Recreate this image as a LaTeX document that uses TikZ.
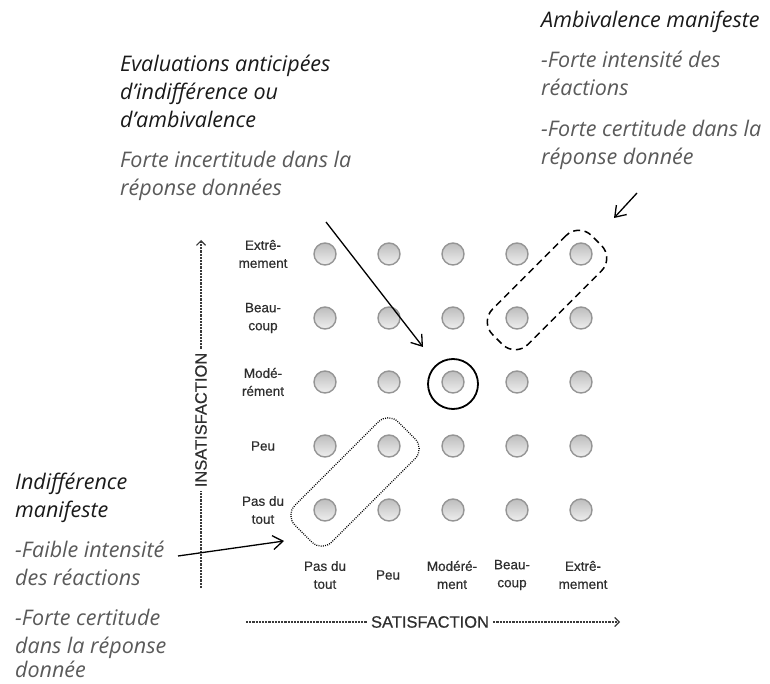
\documentclass[tikz,border=0pt]{standalone}
\usepackage{fontspec}
\setmainfont{Open Sans}
\newfontfamily\labfont[FakeBold=0.5]{Liberation Sans}
\usetikzlibrary{arrows.meta}
\definecolor{txtblack}{HTML}{1A1A1A}
\definecolor{txtgray}{HTML}{5A5A5A}
\definecolor{labgray}{HTML}{2E2E2E}
\definecolor{dotedge}{HTML}{959595}
\definecolor{dottop}{HTML}{BDBDBD}
\definecolor{dotbot}{HTML}{EFEFEF}
\definecolor{axisgray}{HTML}{3A3A3A}
\begin{document}
\begin{tikzpicture}[x=1pt,y=-1pt,
  headtxt/.style={font=\fontsize{21.5}{28}\selectfont\itshape, text=txtblack, anchor=base west, inner sep=0pt},
  subtxt/.style={font=\fontsize{21.5}{28}\selectfont\itshape, text=txtgray, anchor=base west, inner sep=0pt},
  lab/.style={font=\labfont\fontsize{13.5}{18}\selectfont, text=labgray, align=center, inner sep=0pt},
  axislab/.style={font=\labfont\fontsize{16.5}{18}\selectfont, text=labgray, inner sep=4pt},
  axisline/.style={draw=axisgray, line width=1.5pt, dash pattern=on 2.2pt off 1pt},
  axistip/.style={-{Straight Barb[length=4.5pt,width=9pt,line width=1.2pt]}},
  dot/.style={circle, minimum size=22pt, inner sep=0pt, draw=dotedge, line width=1.4pt, top color=dottop, bottom color=dotbot},
  pointer/.style={draw=black, line width=1.3pt, -{Straight Barb[length=10pt,width=14pt]}},
]
\useasboundingbox (0,0) rectangle (770,684);

% grid of dots
\foreach \i/\x in {1/325,2/389,3/453,4/517,5/581}{
  \foreach \j/\y in {1/510,2/446,3/382,4/318,5/254}{
    \node[dot] (d\i\j) at (\x,\y) {};
  }
}

% highlight shapes
\node[draw, circle, minimum size=50pt, line width=1.8pt] (mid) at (453,384) {};
\node[draw, line width=1.5pt, dash pattern=on 7pt off 4.5pt, rounded corners=18pt,
      minimum width=140pt, minimum height=50pt, rotate=45] (amb) at (547,290) {};
\node[draw, line width=1.3pt, dash pattern=on 0.9pt off 1.3pt, rounded corners=14pt,
      minimum width=146pt, minimum height=52pt, rotate=45] (ind) at (355,482) {};

% row labels
\node[lab] (r5) at (263,254) {Extrê-\\mement};
\node[lab] (r4) at (263,318) {Beau-\\coup};
\node[lab] (r3) at (263,382) {Modé-\\rément};
\node[lab] (r2) at (263,446) {Peu};
\node[lab] (r1) at (263,510) {Pas du\\tout};

% column labels
\node[lab] (c1) at (325,575) {Pas du\\tout};
\node[lab] (c2) at (388,575) {Peu};
\node[lab] (c3) at (452,575) {Modéré-\\ment};
\node[lab] (c4) at (512,575) {Beau-\\coup};
\node[lab] (c5) at (583,575) {Extrê-\\mement};

% axes
\node[axislab, rotate=90] (ins) at (201,420) {INSATISFACTION};
\coordinate (vbot) at (201,588);
\coordinate (vtop) at (201,240);
\draw[axisline] (vbot) -- (ins.west);
\draw[axisline, axistip] (ins.east) -- (vtop);

\node[axislab] (sat) at (430,622) {SATISFACTION};
\coordinate (hleft) at (246,622);
\coordinate (hright) at (620,622);
\draw[axisline] (hleft) -- (sat.west);
\draw[axisline, axistip] (sat.east) -- (hright);

% top-left text
\node[headtxt] (tl1) at (120,72) {Evaluations anticipées};
\node[headtxt] (tl2) at (120,100) {d’indifférence ou};
\node[headtxt] (tl3) at (120,128) {d’ambivalence};
\node[subtxt] (tl4) at (120,168) {Forte incertitude dans la};
\node[subtxt] (tl5) at (120,196) {réponse données};

% top-right text
\node[headtxt] (tr1) at (541,28) {Ambivalence manifeste};
\node[subtxt] (tr2) at (541,68) {-Forte intensité des};
\node[subtxt] (tr3) at (541,96) {réactions};
\node[subtxt] (tr4) at (541,137) {-Forte certitude dans la};
\node[subtxt] (tr5) at (541,165) {réponse donnée};

% bottom-left text
\node[headtxt] (bl1) at (15,489) {Indifférence};
\node[headtxt] (bl2) at (15,517) {manifeste};
\node[subtxt] (bl3) at (15,557) {-Faible intensité};
\node[subtxt] (bl4) at (15,585) {des réactions};
\node[subtxt] (bl5) at (15,625) {-Forte certitude};
\node[subtxt] (bl6) at (15,653) {dans la réponse};
\node[subtxt] (bl7) at (15,677) {donnée};

% pointers
\coordinate (a1s) at (326,222);
\coordinate (a1e) at (423,347);
\draw[pointer] (a1s) -- (a1e);
\coordinate (a2s) at (637,193);
\coordinate (a2e) at (614,218);
\draw[pointer] (a2s) -- (a2e);
\coordinate (a3s) at (178,556);
\coordinate (a3e) at (284,541);
\draw[pointer] (a3s) -- (a3e);
\end{tikzpicture}
\end{document}
